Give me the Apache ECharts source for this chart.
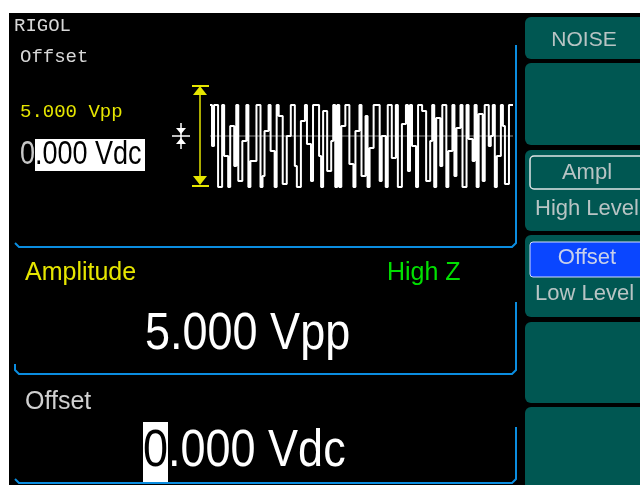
<!DOCTYPE html>
<html><head><meta charset="utf-8">
<script src="https://cdn.jsdelivr.net/npm/echarts@6/dist/echarts.min.js"></script>
<style>html,body{margin:0;padding:0;background:#fff}#c{width:640px;height:485px}</style>
</head><body><div id="c"></div>
<script>
// ---- data ----
const noiseLevels = [
  31, -10, 31, 31, -51, -51, 31, -20, -20, -51, 10, 10, -30, 31, -45, -45, -5, -5, 31, -51,
  -25, -25, -25, 31, 31, -51, -40, 5, 5, 31, -15, -15, -51, 31, 20, 20, -48, -48, 0, 0,
  31, 31, -30, -51, -51, 15, 15, 31, -8, -8, -45, 31, 31, 31, -20, -51, 25, 25, -35, -35,
  -5, 31, -51, 31, -51, 10, 10, 31, 31, -28, -28, -51, 5, 5, 31, -40, -40, 20, -51, -12,
  -12, 31, 31, 31, -45, 0, 0, -51, 31, 31, -22, -22, 31, -51, -51, 12, 12, 31, -35, 31,
  -10, -10, -51, 31, 31, 25, 25, -45, -45, -5, 31, -51, 18, 18, -30, 31, 31, -51, -15, -15,
  31, -40, 8, 8, 31, -51, -51, 31, -3, -3, -25, 31, -51, 22, 22, -45, 31, 31, -10, 0,
  31, -51, -20, -20, 31, 10, -48, -48, 31, 31
];
const centerLevel = [0, 0];
const headerTexts = ['RIGOL', 'Offset', '5.000 Vpp'];
const smallOffsetParts = ['0', '.000 Vdc'];
const paramLabels = ['Amplitude', 'High Z', 'Offset'];
const amplitudeValue = '5.000 Vpp';
const offsetParts = ['0', '.000 Vdc'];
const softKeyTitles = ['NOISE', '', 'Ampl', 'Offset', '', ''];
const softKeySubs = ['', '', 'High Level', 'Low Level', '', ''];

// ---- drawing ----
const chart = echarts.init(document.getElementById('c'), null, {renderer: 'canvas'});
const blue = '#0b8de0', yellow = '#e6e600', green = '#00e000', teal = '#005752', keyText = '#b8c4c4';
const mono = "'Liberation Mono', 'DejaVu Sans Mono', monospace";
const sans = "'Liberation Sans', Arial, sans-serif";
const els = [];
function txt(x, y, s, size, fam, fill, align, sy) {
  els.push({type: 'text', x: x, y: y, scaleY: sy || 1, z: 10,
    style: {text: s, x: 0, y: 0, fill: fill, font: size + 'px ' + fam,
      textAlign: align || 'left', align: align || 'left', textVerticalAlign: 'middle', verticalAlign: 'middle'}});
}
function pl(points, stroke, lw) {
  els.push({type: 'polyline', z: 5, shape: {points: points}, style: {stroke: stroke, lineWidth: lw, fill: null}});
}
function pg(points, fill) {
  els.push({type: 'polygon', z: 5, shape: {points: points}, style: {fill: fill}});
}
// white margins
els.push({type: 'rect', z: 1, shape: {x: 0, y: 0, width: 640, height: 13}, style: {fill: '#fff'}});
els.push({type: 'rect', z: 1, shape: {x: 0, y: 0, width: 9, height: 485}, style: {fill: '#fff'}});
// panel borders
pl([[516, 45], [516, 243], [512, 247], [19, 247], [15, 243]], blue, 2);
pl([[15, 364], [15, 370], [19, 374], [512, 374], [516, 370], [516, 302]], blue, 2);
pl([[15, 479], [19, 483], [512, 483], [516, 479], [516, 427]], blue, 2);
// yellow amplitude arrow
pl([[200, 88], [200, 184]], yellow, 1.5);
pl([[192, 86], [209, 86]], yellow, 2);
pl([[192, 186], [209, 186]], yellow, 2);
pg([[200, 86], [193, 95], [207, 95]], yellow);
pg([[200, 185], [193, 176], [207, 176]], yellow);
// offset marker
pl([[181, 123], [181, 149]], '#fff', 1.5);
pl([[172, 136], [190, 136]], '#fff', 1.5);
pg([[176, 128], [186, 128], [181, 134]], '#fff');
pg([[176, 144], [186, 144], [181, 138]], '#fff');
// header texts
txt(14, 26, headerTexts[0], 19, mono, '#d8d8d8');
txt(20, 57, headerTexts[1], 19, mono, '#d8d8d8');
txt(20, 112, headerTexts[2], 19, mono, yellow);
els.push({type: 'rect', z: 6, shape: {x: 35, y: 139, width: 110, height: 32}, style: {fill: '#fff'}});
txt(20, 155, smallOffsetParts[0], 27, sans, '#c8c8c8', 'left', 1.25);
txt(35, 155, smallOffsetParts[1], 27, sans, '#000', 'left', 1.25);
// parameter area
txt(25, 273, paramLabels[0], 25, sans, yellow);
txt(387, 273, paramLabels[1], 25, sans, green);
txt(145, 335, amplitudeValue, 45, sans, '#fff', 'left', 1.15);
txt(25, 402, paramLabels[2], 25, sans, '#d0d0d0');
els.push({type: 'rect', z: 6, shape: {x: 143, y: 422, width: 25, height: 60}, style: {fill: '#fff'}});
txt(143, 452, offsetParts[0], 45, sans, '#000', 'left', 1.15);
txt(168, 452, offsetParts[1], 45, sans, '#fff', 'left', 1.15);
// soft keys
const keyTops = [17, 63, 150, 235, 322, 407];
const keyBottoms = [59, 145, 231, 317, 403, 492];
softKeyTitles.forEach(function (t, i) {
  els.push({type: 'rect', z: 2, shape: {x: 525, y: keyTops[i], width: 130, height: keyBottoms[i] - keyTops[i], r: 6}, style: {fill: teal}});
  if (i === 0) {
    txt(584, 40, t, 21, sans, keyText, 'center');
  } else if (t) {
    const top = keyTops[i] + 6;
    if (i === 2) {
      els.push({type: 'rect', z: 3, shape: {x: 530, y: top, width: 120, height: 33, r: 4}, style: {fill: teal, stroke: '#e0e6e6', lineWidth: 1.5}});
    } else {
      els.push({type: 'rect', z: 3, shape: {x: 530, y: top + 1, width: 120, height: 35, r: 3}, style: {fill: '#0a46ff', stroke: '#d6dcff', lineWidth: 1}});
    }
    txt(587, top + 17, t, 22, sans, i === 2 ? keyText : '#c8d0ea', 'center');
    txt(535, keyTops[i] + 59, softKeySubs[i], 22, sans, keyText);
  }
});

const noisePts = noiseLevels.map(function (v, i) { return [i, v]; });
noisePts.push([noiseLevels.length, noiseLevels[noiseLevels.length - 1]]);

chart.setOption({
  backgroundColor: '#000',
  animation: false,
  grid: {left: 210, top: 86, width: 303, height: 102},
  xAxis: {type: 'value', min: 0, max: noiseLevels.length, show: false},
  yAxis: {type: 'value', min: -52, max: 50, show: false},
  series: [
    {type: 'line', data: [[0, centerLevel[0]], [noiseLevels.length, centerLevel[1]]], symbol: 'none', silent: true,
      lineStyle: {color: '#8a8a8a', width: 1}, z: 1},
    {type: 'line', step: 'end', data: noisePts, symbol: 'none', silent: true,
      lineStyle: {color: '#ffffff', width: 2}, z: 2}
  ],
  graphic: {elements: els}
});
</script></body></html>
